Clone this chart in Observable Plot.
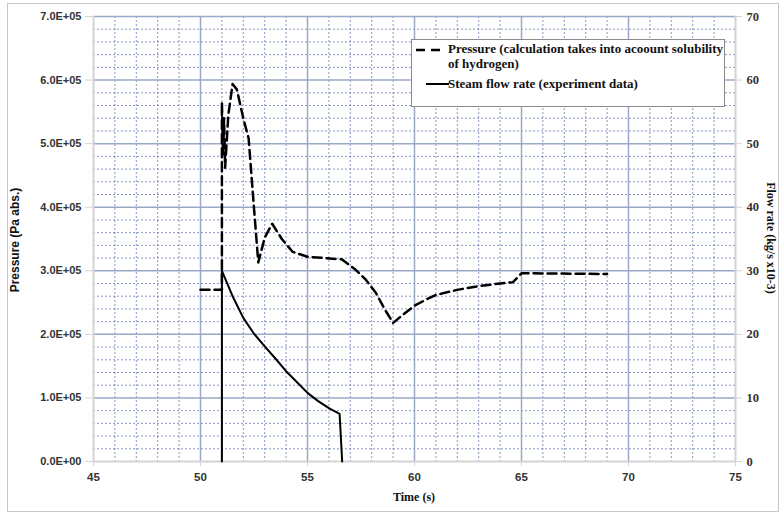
<!DOCTYPE html>
<html><head><meta charset="utf-8">
<script src="https://cdn.jsdelivr.net/npm/d3@7"></script>
<script src="https://cdn.jsdelivr.net/npm/@observablehq/plot@0.6"></script>
<style>
body{margin:0;background:#fff;}
#wrap{position:relative;width:780px;height:515px;overflow:hidden;}
#frame{position:absolute;left:7px;top:3px;width:772px;height:509px;border:1px solid #c8c8c8;box-sizing:border-box;pointer-events:none;}
#legend{position:absolute;left:411px;top:39px;width:314px;height:68px;background:#fff;border:1px solid #8c8c8c;box-sizing:border-box;font:bold 13px "Liberation Serif","Times New Roman",serif;color:#111;}
.lt{position:absolute;white-space:nowrap;line-height:15px;}
.ylab{position:absolute;font:bold 12px "Liberation Sans",Arial,sans-serif;color:#111;white-space:nowrap;transform:translate(-50%,-50%) rotate(-90deg);}
.y2lab{position:absolute;font:bold 12px "Liberation Serif",serif;color:#111;white-space:nowrap;transform:translate(-50%,-50%) rotate(-90deg);}
.xlab{position:absolute;font:bold 12px "Liberation Serif",serif;color:#111;white-space:nowrap;transform:translate(-50%,0);}
</style></head>
<body>
<div id="wrap"><div id="chart"></div>
<div id="frame"></div>
<div class="ylab" style="left:15px;top:240px;">Pressure (Pa abs.)</div>
<div class="y2lab" style="left:770px;top:238px;transform:translate(-50%,-50%) rotate(90deg);">Flow rate (kg/s x10-3)</div>
<div class="xlab" style="left:414px;top:490px;">Time (s)</div>
<div id="legend">
  <svg style="position:absolute;left:3px;top:7px" width="34" height="40">
    <line x1="1" y1="3" x2="30" y2="3" stroke="#000" stroke-width="2.5" stroke-dasharray="9,6"/>
    <line x1="11" y1="37" x2="36" y2="37" stroke="#000" stroke-width="2"/>
  </svg>
  <div class="lt" style="left:36px;top:1px;">Pressure (calculation takes into acoount solubility</div>
  <div class="lt" style="left:36px;top:16px;">of hydrogen)</div>
  <div class="lt" style="left:36px;top:36px;">Steam flow rate (experiment data)</div>
</div>
</div>
<script>
// Pressure (dashed, left axis, Pa)
const pressureTime = [50, 51, 51.0, 51.06, 51.1, 51.15, 51.3, 51.5, 51.7, 52.0, 52.25, 52.45, 52.7, 53.0, 53.35, 53.8, 54.3, 55.0, 56.6, 57.2, 57.7, 58.2, 58.6, 59.0, 59.5, 60.0, 60.5, 61.0, 62.0, 63.0, 64.0, 64.6, 65.0, 65.5, 69.0];
const pressureValue = [270000, 270000, 565000, 480000, 540000, 462000, 545000, 594000, 585000, 540000, 508000, 420000, 313000, 352000, 374000, 350000, 330000, 322000, 318000, 303000, 287000, 265000, 240000, 218000, 232000, 245000, 254000, 262000, 270000, 276000, 280000, 282000, 296000, 296000, 295000];
// Steam flow rate (solid, right axis, kg/s x10-3)
const flowTime = [51.0, 51.0, 51.5, 52.0, 52.5, 53.0, 53.5, 54.0, 54.5, 55.0, 55.5, 56.0, 56.5, 56.62];
const flowValue = [0, 30, 26, 22.6, 20.1, 18.1, 16.2, 14.2, 12.5, 10.8, 9.5, 8.4, 7.5, 0];
// Tick labels
const xTicks = [45, 50, 55, 60, 65, 70, 75];
const yTicks = [0, 100000, 200000, 300000, 400000, 500000, 600000, 700000];
const flowTicks = [0, 10, 20, 30, 40, 50, 60, 70];

const flowToP = 700000 / 70;
const pressure = pressureTime.map((t, i) => ({t, v: pressureValue[i]}));
const flow = flowTime.map((t, i) => ({t, v: flowValue[i] * flowToP}));
const minorX = d3.range(46, 75, 1).filter(v => v % 5 !== 0);
const minorY = d3.range(20000, 700000, 20000).filter(v => v % 100000 !== 0);
const majorX = xTicks.slice(1, -1);
const majorY = yTicks.slice(1);

function sci(d) {
  if (d === 0) return "0.0E+00";
  const e = Math.floor(Math.log10(d));
  const m = d / Math.pow(10, e);
  return m.toFixed(1) + "E+" + String(e).padStart(2, "0");
}

const chart = Plot.plot({
  width: 780, height: 515,
  marginLeft: 93, marginRight: 45, marginTop: 16, marginBottom: 54,
  x: {domain: [45, 75]},
  y: {domain: [0, 700000]},
  style: {background: "transparent", overflow: "visible"},
  marks: [
    Plot.ruleX(minorX, {stroke: "#4f64a6", strokeWidth: 0.8, strokeDasharray: "2,2", strokeOpacity: 0.85}),
    Plot.ruleY(minorY, {stroke: "#4f64a6", strokeWidth: 0.8, strokeDasharray: "2,2", strokeOpacity: 0.85}),
    Plot.ruleX(majorX, {stroke: "#9aa7c6", strokeWidth: 1.5}),
    Plot.ruleY(majorY, {stroke: "#9aa7c6", strokeWidth: 1.5}),
    Plot.ruleX([45, 75], {stroke: "#d4d4d4", strokeWidth: 2}),
    Plot.ruleY([0], {stroke: "#d4d4d4", strokeWidth: 2}),
    Plot.line(pressure, {x: "t", y: "v", stroke: "#000", strokeWidth: 2.5, strokeDasharray: "9,5"}),
    Plot.line(flow, {x: "t", y: "v", stroke: "#000", strokeWidth: 2}),
    Plot.axisX({ticks: xTicks, tickFormat: d => d, tickSize: 5, tickPadding: 6, stroke: "#d4d4d4", label: null,
      fontFamily: "Liberation Sans, Arial, sans-serif", fontSize: 11.5, fontWeight: "bold", fill: "#333"}),
    Plot.axisY({anchor: "left", ticks: yTicks, tickFormat: sci, tickSize: 8, tickPadding: 4, stroke: "#d4d4d4", label: null,
      fontFamily: "Liberation Sans, Arial, sans-serif", fontSize: 11, fontWeight: "bold", fill: "#333"}),
    Plot.axisY({anchor: "right", ticks: flowTicks.map(v => v * flowToP), tickFormat: d => Math.round(d / flowToP), tickSize: 6, tickPadding: 5, stroke: "#d4d4d4", label: null,
      fontFamily: "Liberation Serif, Times New Roman, serif", fontSize: 12.5, fontWeight: "bold", fill: "#333"})
  ]
});
document.getElementById("chart").appendChild(chart);
</script>
</body></html>
